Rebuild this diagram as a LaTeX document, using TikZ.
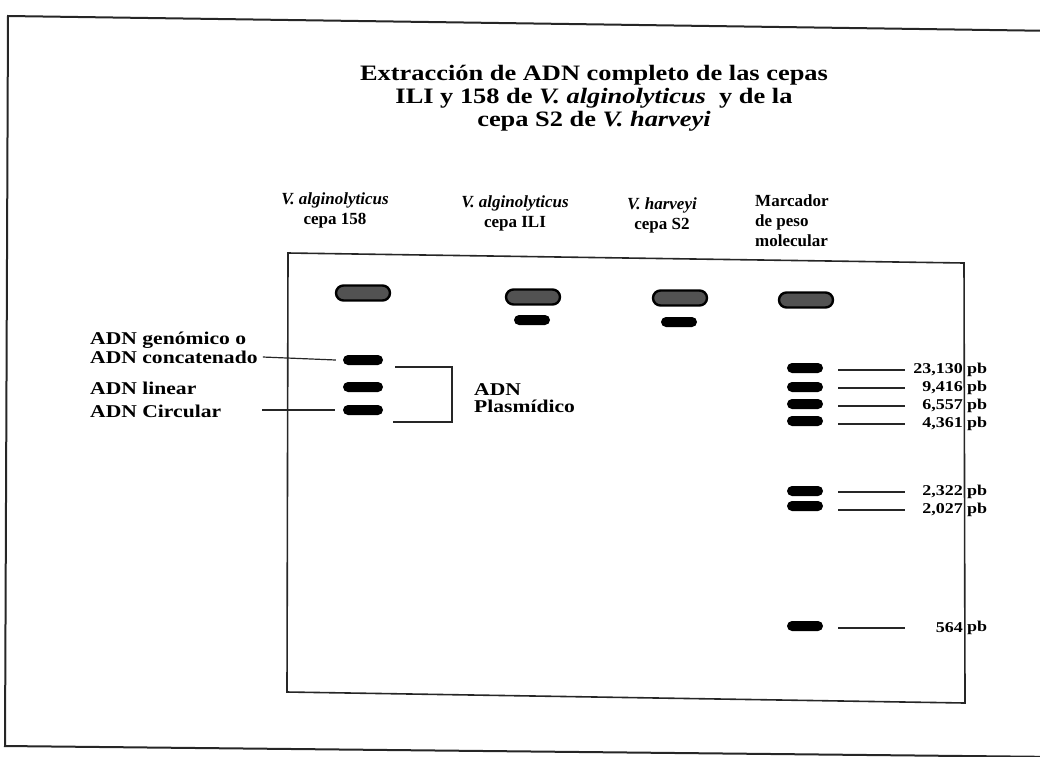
\documentclass[tikz,border=0pt]{standalone}
\usepackage{fontspec}
\setmainfont{Liberation Serif}
\newfontfamily\widefam[FakeStretch=1.2]{Liberation Serif Bold}
\newcommand{\wideit}[1]{{\bfseries\itshape #1}}
\usetikzlibrary{shapes.misc,calc}
\begin{document}
\begin{tikzpicture}[x=1pt,y=-1pt]
\useasboundingbox (0,0) rectangle (1040,756);
\clip (0,0) rectangle (1040,756);
\tikzset{
 frame/.style={line width=2pt, black!85},
 gel/.style={line width=1.6pt, black!85},
 band/.style={rounded rectangle, fill=black, minimum width=38pt, minimum height=10pt, inner sep=0pt},
 well/.style={rounded rectangle, fill=black!68, draw=black, line width=2.4pt, minimum width=54pt, minimum height=15pt, inner sep=0pt},
 ttl/.style={font=\widefam\fontsize{22}{23}\selectfont, align=center, inner sep=0pt},
 hdr/.style={font=\bfseries\fontsize{17}{20}\selectfont, align=center, inner sep=0pt},
 lbl/.style={font=\widefam\fontsize{18}{17}\selectfont, anchor=west, align=left, inner sep=0pt},
 mk/.style={font=\widefam\fontsize{15}{15}\selectfont, inner sep=0pt},
 conn/.style={line width=1.2pt, black!85},
}
% frames
\draw[frame] (1060,31) -- (8,16) -- (5,746) -- (1060,757);
\draw[gel] (288,253) -- (964,263) -- (965,703) -- (287,692) -- cycle;

% title
\node[ttl] (title) at (594,98) {Extracción de ADN completo de las cepas\\ILI y 158 de \wideit{V. alginolyticus}\ \ y de la\\cepa S2 de \wideit{V. harveyi}};

% headers
\node[hdr] (h1) at (335,210) {\textit{V. alginolyticus}\\cepa 158};
\node[hdr] (h2) at (515,213) {\textit{V. alginolyticus}\\cepa ILI};
\node[hdr] (h3) at (662,215) {\textit{V. harveyi}\\cepa S2};
\node[hdr, anchor=west, align=left] (h4) at (755,221) {Marcador\\de peso\\molecular};

% wells
\node[well] (w1) at (363,293) {};
\node[well] (w2) at (533,297) {};
\node[well] (w3) at (680,298) {};
\node[well] (w4) at (806,300) {};
\node[band, minimum width=36pt] (s2) at (532,320) {};
\node[band, minimum width=36pt] (s3) at (679,322) {};

% lane 1 bands
\node[band, minimum width=40pt] (b1) at (363,360) {};
\node[band, minimum width=40pt] (b2) at (363,387) {};
\node[band, minimum width=40pt] (b3) at (363,410) {};

% left labels
\node[lbl] (lgen) at (90,340) {ADN genómico o};
\node[lbl] (lconc) at (90,357) {ADN concatenado};
\node[lbl] (llin) at (90,388) {ADN linear};
\node[lbl] (lcirc) at (90,411) {ADN Circular};
\draw[conn] ([xshift=5pt]lconc.east) -- ([xshift=-7pt]b1.west);
\coordinate (cstart) at (262,410);
\draw[conn] (cstart) -- ([xshift=-8pt]b3.west);

% bracket
\coordinate (brA) at (395,367);
\coordinate (brB) at (452,367);
\coordinate (brC) at (452,422);
\coordinate (brD) at (393,422);
\draw[conn] (brA) -- (brB) -- (brC) -- (brD);
\node[lbl] (plas) at (474,398) {ADN\\Plasmídico};

% marker bands
\foreach \n/\y in {1/368,2/387,3/404,4/421,5/491,6/506,7/626}{
  \node[band, minimum width=36pt] (m\n) at (805,\y) {};
}
\foreach \n/\y/\v in {1/370/{23,130},2/388/{9,416},3/406/{6,557},4/424/{4,361},5/492/{2,322},6/510/{2,027},7/628/{564}}{
  \node[mk, anchor=east] (v\n) at (963,\y) {\v};
  \node[mk, anchor=west] (p\n) at (967,\y) {pb};
  \coordinate (e\n) at (905,\y);
  \draw[conn] ([xshift=15pt]m\n.east |- e\n) -- (e\n);
}
\end{tikzpicture}
\end{document}
